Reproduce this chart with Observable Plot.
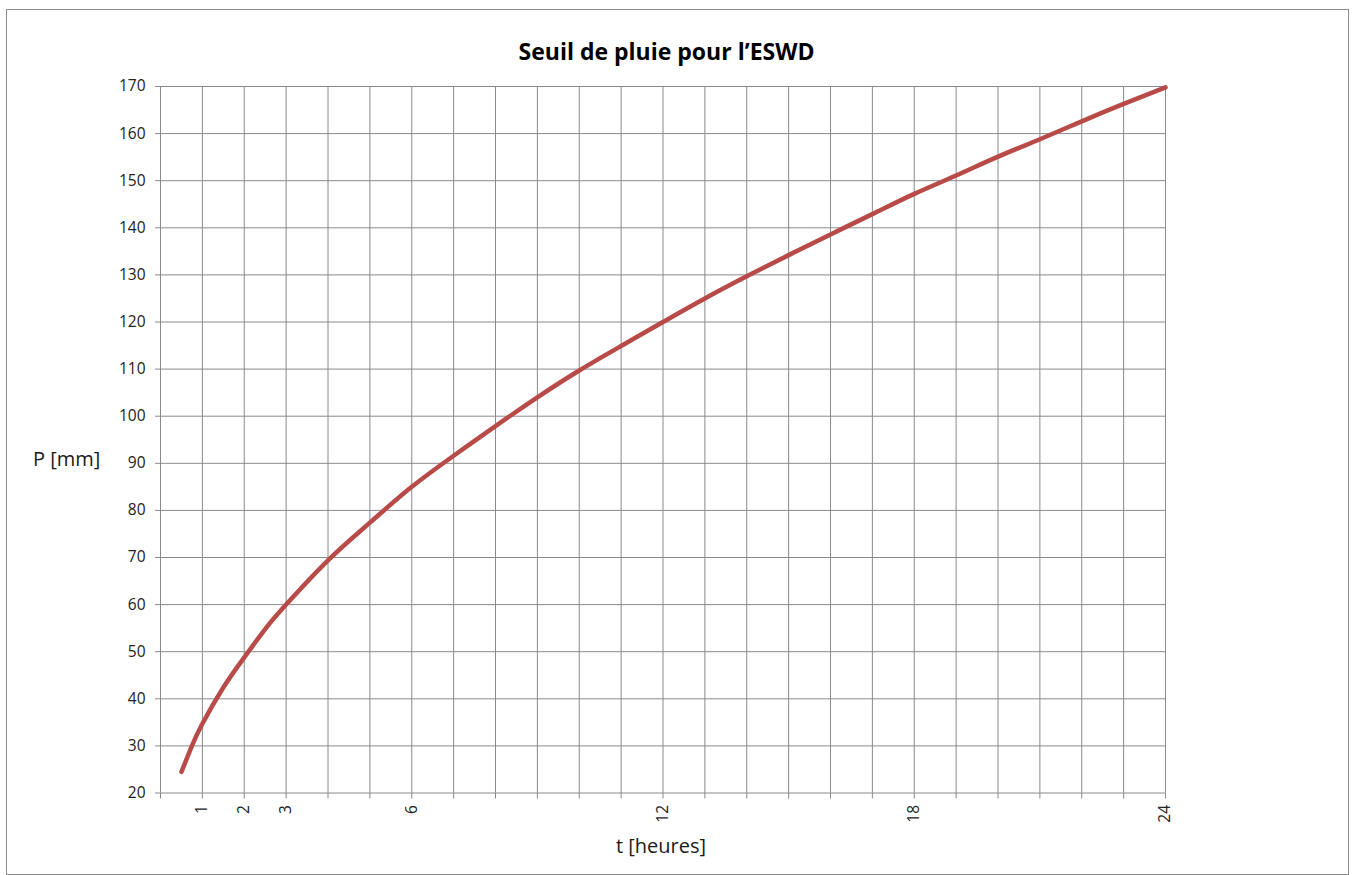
<!DOCTYPE html>
<html>
<head>
<meta charset="utf-8">
<script src="https://cdn.jsdelivr.net/npm/d3@7"></script>
<script src="https://cdn.jsdelivr.net/npm/@observablehq/plot@0.6"></script>
<style>
html, body { margin: 0; padding: 0; background: #fff; }
#wrap { position: relative; width: 1353px; height: 875px; overflow: hidden; font-family: "Open Sans", sans-serif; }
#wrap svg { position: absolute; left: 0; top: 0; }
#frame { position: absolute; left: 6px; top: 9px; width: 1343px; height: 866px; border: 1px solid #8c8c8c; box-sizing: border-box; pointer-events: none; }
.lbl { position: absolute; white-space: nowrap; line-height: normal; }
#title { left: 0; width: 1333px; top: 35px; text-align: center; font-weight: bold; font-size: 23px; color: #000; }
#xlabel { left: 561px; width: 200px; top: 832px; text-align: center; font-size: 20px; color: #1a1a1a; }
#ylabel { left: 33px; top: 445px; font-size: 20px; color: #1a1a1a; }
</style>
</head>
<body>
<div id="wrap">
  <div id="chart"></div>
  <div id="frame"></div>
  <div class="lbl" id="title">Seuil de pluie pour l’ESWD</div>
  <div class="lbl" id="xlabel">t [heures]</div>
  <div class="lbl" id="ylabel">P [mm]</div>
</div>
<script>
// Duration in hours (x) and rain threshold in mm (y)
const hours  = [0.5, 0.75, 1, 1.5, 2, 2.5, 3, 4, 5, 6, 7, 8, 9, 10, 11, 12, 13, 14, 15, 16, 17, 18, 19, 20, 21, 22, 23, 24];
const precip = [24.5, 30.0, 34.7, 42.4, 48.8, 54.8, 60.0, 69.4, 77.4, 85.0, 91.6, 97.9, 104.0, 109.7, 114.9, 120.0, 125.0, 129.7, 134.2, 138.6, 142.9, 147.2, 151.1, 155.1, 158.8, 162.6, 166.3, 169.8];

// Axis ticks
const xTicks = [0, 1, 2, 3, 4, 5, 6, 7, 8, 9, 10, 11, 12, 13, 14, 15, 16, 17, 18, 19, 20, 21, 22, 23, 24];
const xTickLabels = [1, 2, 3, 6, 12, 18, 24];
const yTicks = [20, 30, 40, 50, 60, 70, 80, 90, 100, 110, 120, 130, 140, 150, 160, 170];

const data = hours.map((h, i) => ({ h, p: precip[i] }));
const gridColor = "#8a8a8a";

const chart = Plot.plot({
  width: 1353,
  height: 875,
  marginLeft: 160,
  marginRight: 188,
  marginTop: 86,
  marginBottom: 82.5,
  style: { fontFamily: "'Open Sans', sans-serif", fontSize: "15.5px", background: "transparent", overflow: "visible" },
  x: { domain: [0, 24] },
  y: { domain: [20, 170] },
  marks: [
    Plot.ruleX(xTicks, { stroke: gridColor, strokeWidth: 1 }),
    Plot.ruleY(yTicks, { stroke: gridColor, strokeWidth: 1 }),
    Plot.axisY({ ticks: yTicks, tickSize: 5, tickPadding: 10, stroke: gridColor, fill: "#222", label: null }),
    Plot.axisX({ ticks: xTicks, tickSize: 6, tickPadding: 6, tickRotate: -90, stroke: gridColor, fill: "#222", label: null,
                 tickFormat: d => xTickLabels.includes(d) ? String(d) : "" }),
    Plot.line(data, { x: "h", y: "p", stroke: "#b84a47", strokeWidth: 4.5, curve: "natural" })
  ]
});
document.getElementById("chart").appendChild(chart);
</script>
</body>
</html>
